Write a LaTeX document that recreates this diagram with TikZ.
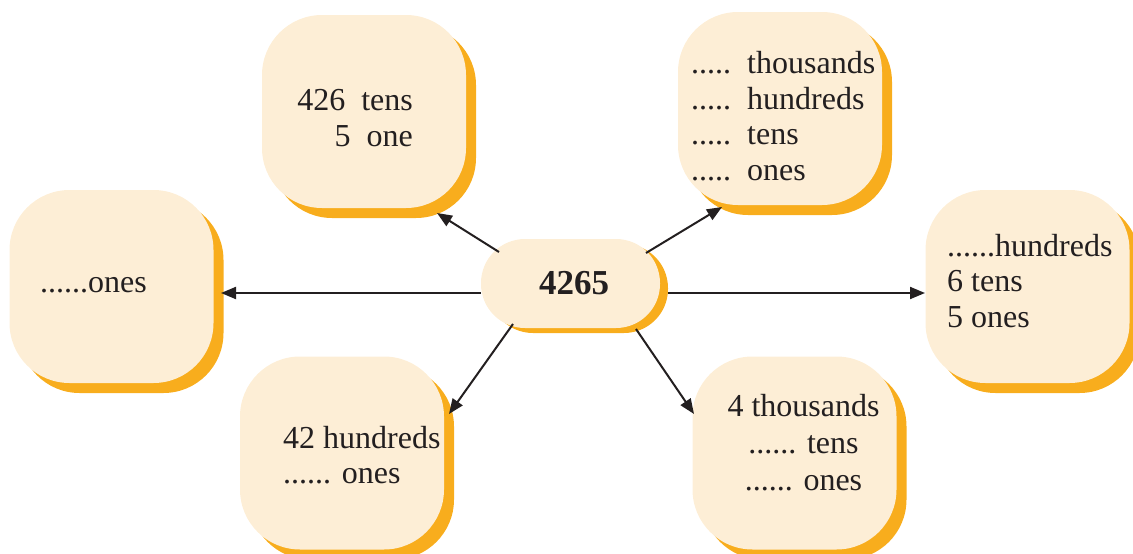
\documentclass[tikz,border=0pt]{standalone}
\usepackage{fontspec}
\setmainfont{Liberation Serif}
\usetikzlibrary{arrows.meta,shadows}
\definecolor{frontc}{RGB}{253,238,214}
\definecolor{shadc}{RGB}{248,173,29}
\definecolor{inkc}{RGB}{35,31,32}
\tikzset{
  bubble/.style={rectangle, rounded corners=60pt, fill=frontc, minimum width=204pt, minimum height=193pt, inner sep=0pt,
    general shadow={fill=shadc, shadow xshift=10pt, shadow yshift=-10pt}},
  hub/.style={rectangle, rounded corners=44pt, fill=frontc, minimum width=179pt, minimum height=89pt, inner sep=0pt,
    general shadow={fill=shadc, shadow xshift=8pt, shadow yshift=-5pt},
    font=\fontsize{35}{40}\selectfont\bfseries, text=inkc},
  txt/.style={inner sep=0pt, text=inkc, font=\fontsize{32}{35.5}\selectfont},
  arr/.style={draw=inkc, line width=2pt, -{Triangle[length=15pt,width=12pt]}}
}
\begin{document}
\begin{tikzpicture}[x=1pt,y=-1pt]
\useasboundingbox (0,0) rectangle (1133,554);
% boxes
\node[bubble] (b1) at (111.5,286.5) {};
\node[bubble] (b2) at (364,111.5) {};
\node[bubble] (b3) at (780,108.5) {};
\node[bubble] (b4) at (1027.5,286.5) {};
\node[bubble] (b5) at (342,453) {};
\node[bubble] (b6) at (794.5,453) {};
\node[hub] (c) at (570.5,283.5) {\raisebox{-3pt}{\hspace{7pt}4265}};
% texts
\node[txt, anchor=west] (t1) at (40,285) {......ones};
\node[txt, anchor=east, align=right] (t2) at (413,118) {426\ \ tens\\5\ \ one};
\node[txt, anchor=west, align=left] (t3) at (691,116) {.....\ \ thousands\\.....\ \ hundreds\\.....\ \ tens\\.....\ \ ones};
\node[txt, anchor=west, align=left] (t4) at (947,281) {......hundreds\\6 tens\\5 ones};
\node[txt, anchor=west, align=left] (t5) at (283,455) {42 hundreds\\...... ones};
\node[txt, align=center, font=\fontsize{32}{37}\selectfont] (t6) at (803.5,443) {4 thousands\\...... tens\\...... ones};
% arrow ends
\coordinate (s1) at (481,293);
\coordinate (e1) at (221,293);
\coordinate (s4) at (668,293);
\coordinate (e4) at (925,293);
\coordinate (s2) at (499,252);
\coordinate (e2) at (437,213);
\coordinate (s3) at (646,253);
\coordinate (e3) at (722,207);
\coordinate (s5) at (513,324);
\coordinate (e5) at (449,414);
\coordinate (s6) at (636,329);
\coordinate (e6) at (694,414);
\draw[arr] (s1) -- (e1);
\draw[arr] (s4) -- (e4);
\draw[arr] (s2) -- (e2);
\draw[arr] (s3) -- (e3);
\draw[arr] (s5) -- (e5);
\draw[arr] (s6) -- (e6);
\end{tikzpicture}
\end{document}
